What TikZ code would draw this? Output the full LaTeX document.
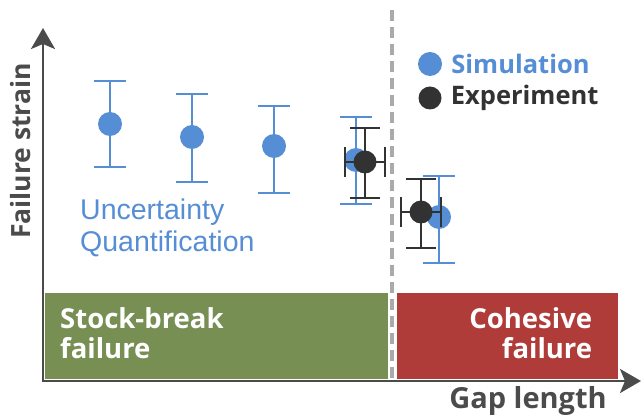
\documentclass[tikz,border=0pt]{standalone}
\usepackage{fontspec}
\setmainfont{Open Sans}
\newfontfamily\uqfont{Liberation Sans}
\usetikzlibrary{arrows.meta,positioning}
\definecolor{simblue}{RGB}{85,142,213}
\definecolor{expdark}{RGB}{50,50,50}
\definecolor{axisgray}{RGB}{75,75,75}
\definecolor{breakgreen}{RGB}{120,143,83}
\definecolor{cohesred}{RGB}{176,60,58}
\definecolor{dashgray}{RGB}{170,170,170}
\newcommand{\lbl}[1]{\fontsize{#1}{30}\selectfont\bfseries}

\begin{document}
\begin{tikzpicture}[
    x=1pt,y=-1pt,
    axis/.style={draw=axisgray,line width=2.6pt,
      {Stealth[length=21pt,width=24pt,inset=5pt]}-{Stealth[length=21pt,width=24pt,inset=5pt]}},
    simdot/.style={circle,fill=simblue,minimum size=24pt,inner sep=0pt},
    expdot/.style={circle,fill=expdark,minimum size=23pt,inner sep=0pt},
    simbar/.style={draw=simblue,line width=2.2pt},
    expbar/.style={draw=expdark,line width=2.2pt},
    regionbox/.style={rectangle,minimum height=86pt,text=white,font=\lbl{27.5},
      inner ysep=0pt,anchor=north west},
    label/.style={inner sep=0pt,font=\lbl{25.5}}
  ]
    \useasboundingbox (0,0) rectangle (642,419);

    % failure regions
    \node[regionbox,fill=breakgreen,minimum width=343pt,text width=313pt,
      inner xsep=15pt,align=left] (stock) at (45,293) {Stock-break\\failure\par\vspace{6pt}};
    \node[regionbox,fill=cohesred,minimum width=221pt,text width=169pt,
      inner xsep=26pt,align=right] (cohes) at (397,293) {Cohesive\\failure\par\vspace{6pt}};

    \coordinate (dtop) at (392,10);
    \coordinate (dbot) at (392,380);
    \draw[dashgray,line width=3.2pt,dash pattern=on 11pt off 6pt] (dtop) -- (dbot);

    % axes
    \coordinate (origin) at (43,381);
    \coordinate (ytip) at (43,28);
    \coordinate (xtip) at (641,381);
    \draw[axis] (ytip) -- (origin) -- (xtip);
    \node[label,font=\lbl{26.5},text=axisgray,rotate=90] (ylabel) at (21,151) {Failure strain};
    \node[label,font=\lbl{29},text=axisgray,anchor=east] (xlabel) at (607,401) {Gap length};

    % simulation with uncertainty bars
    \foreach \x/\y/\lo/\hi [count=\i] in
      {110/124/81/167, 192/137/94/182, 274/146/106/193, 356/160/117/204, 439/217/176/263} {
      \draw[simbar] (\x,\lo) -- (\x,\hi) (\x-16,\lo) -- (\x+16,\lo) (\x-16,\hi) -- (\x+16,\hi);
      \node[simdot] (sim\i) at (\x,\y) {};
    }

    % experiments, both directions
    \foreach \x/\y/\lo/\hi [count=\i] in {365/162/128/198, 421/212/179/248} {
      \draw[expbar] (\x,\lo) -- (\x,\hi) (\x-15,\lo) -- (\x+15,\lo) (\x-15,\hi) -- (\x+15,\hi)
        (\x-20,\y) -- (\x+20,\y) (\x-20,\y-15) -- (\x-20,\y+15) (\x+20,\y-15) -- (\x+20,\y+15);
      \node[expdot] (exp\i) at (\x,\y) {};
    }

    \node[inner sep=0pt,text=simblue,align=left,anchor=west,
      font=\uqfont\fontsize{28.5}{32}\selectfont] (uq) at (80,228) {Uncertainty\\Quantification};

    % legend
    \node[simdot] (legsim) at (430,64) {};
    \node[expdot] (legexp) at (430,98) {};
    \node[label,text=simblue,right=9pt of legsim] (simtxt) {Simulation};
    \node[label,text=expdark,right=9pt of legexp] (exptxt) {Experiment};
\end{tikzpicture}
\end{document}
